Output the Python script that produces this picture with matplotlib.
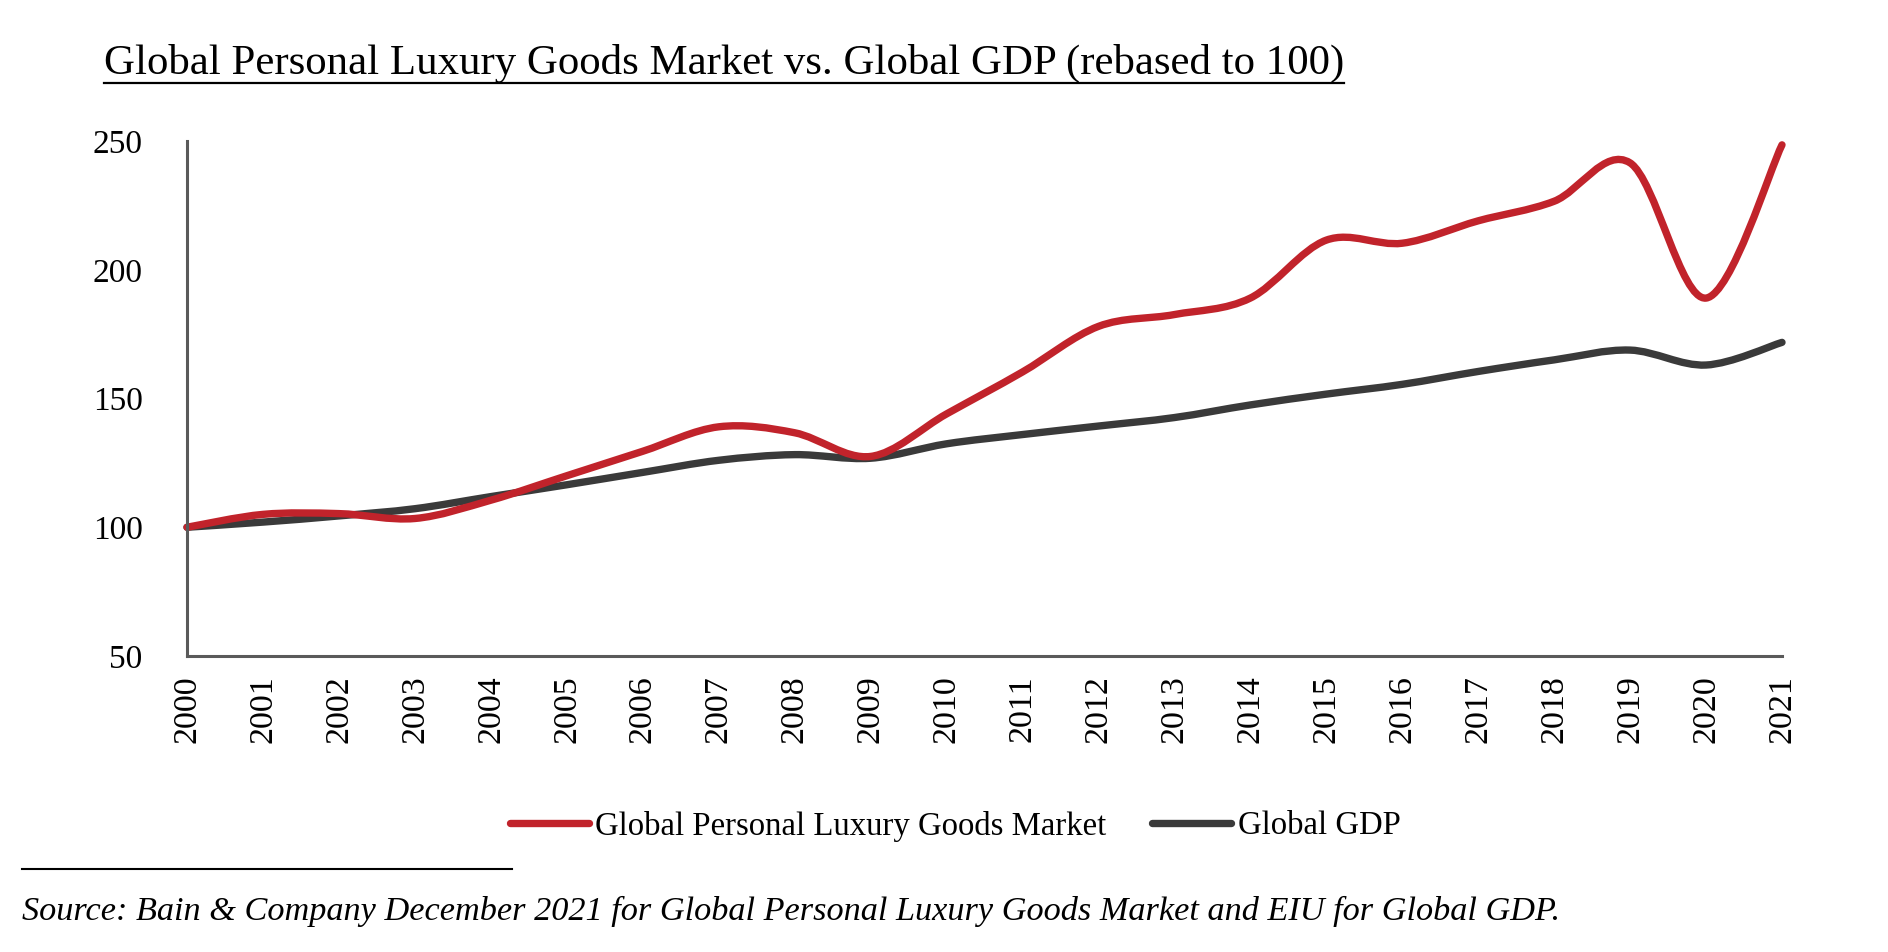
import matplotlib
matplotlib.use('Agg')
import matplotlib.pyplot as plt
from matplotlib.path import Path
from matplotlib.patches import PathPatch
from matplotlib.lines import Line2D
import numpy as np

# Datos (índice, 2000 = 100)
anios = list(range(2000, 2022))
lujo = [100, 105, 105.3, 103.4, 110.5, 120, 129.5, 139, 136.7, 127.5,
        144, 160.3, 178, 182.6, 189, 211.5, 210.3, 219, 226.6, 241.5, 189, 248.5]
pib = [100, 102, 104.4, 107.2, 111.9, 116.5, 121.3, 126, 128.2, 126.8,
       132.4, 136, 139.3, 142.6, 147.5, 151.7, 155.5, 160.5, 165, 168.8, 163, 171.8]
yticks = [50, 100, 150, 200, 250]

nombre_lujo = 'Global Personal Luxury Goods Market'
nombre_pib = 'Global GDP'
titulo = 'Global Personal Luxury Goods Market vs. Global GDP (rebased to 100)'
fuente = 'Source: Bain & Company December 2021 for Global Personal Luxury Goods Market and EIU for Global GDP.'

rojo = '#C1232B'
gris = '#3A3A3A'
fuente_serif = 'Liberation Serif'


def curva_suave(x, y):
    '''Camino Bezier tipo "línea suavizada" de Excel (Catmull-Rom).'''
    p = np.column_stack([x, y]).astype(float)
    n = len(p)
    verts = [p[0]]
    for i in range(n - 1):
        p0 = p[i - 1] if i > 0 else p[i]
        p3 = p[i + 2] if i + 2 < n else p[i + 1]
        c1 = p[i] + (p[i + 1] - p0) / 6
        c2 = p[i + 1] - (p3 - p[i]) / 6
        verts += [c1, c2, p[i + 1]]
    codes = [Path.MOVETO] + [Path.CURVE4] * 3 * (n - 1)
    return Path(verts, codes)


plt.rcParams['font.family'] = fuente_serif
fig = plt.figure(figsize=(18.88, 9.52), dpi=100)
ax = fig.add_axes([187 / 1888, 1 - 656 / 952, (1782 - 187) / 1888, (656 - 141) / 952])

for serie, color in [(pib, gris), (lujo, rojo)]:
    parche = PathPatch(curva_suave(anios, serie), fill=False, edgecolor=color,
                       linewidth=5.3, capstyle='round', joinstyle='round', clip_on=False)
    ax.add_patch(parche)

ax.set_xlim(2000, 2021)
ax.set_ylim(50, 250)
ax.set_xticks(anios)
ax.set_xticklabels([str(a) for a in anios], rotation=90, fontsize=24.5)
ax.set_yticks(yticks)
ax.set_yticklabels([str(v) for v in yticks], fontsize=24)
ax.tick_params(axis='x', length=0, pad=14)
ax.tick_params(axis='y', length=0, pad=32)
for lado in ['top', 'right']:
    ax.spines[lado].set_visible(False)
for lado in ['left', 'bottom']:
    ax.spines[lado].set_color('#5A5A5A')
    ax.spines[lado].set_linewidth(2.2)

# Leyenda
manejadores = [Line2D([], [], color=rojo, linewidth=5.3, solid_capstyle='round'),
               Line2D([], [], color=gris, linewidth=5.3, solid_capstyle='round')]
fig.legend(manejadores, [nombre_lujo, nombre_pib], loc='center',
           bbox_to_anchor=(0.506, 1 - 826 / 952), ncol=2, frameon=False,
           fontsize=23.6, handlelength=2.4, handletextpad=0.2, columnspacing=1.4)

# Título subrayado
t = fig.text(104 / 1888, 1 - 74 / 952, titulo, fontsize=30.9, ha='left', va='baseline')
fig.canvas.draw()
bb = t.get_window_extent()
y_sub = 1 - 83 / 952
fig.add_artist(Line2D([bb.x0 / 1888, bb.x1 / 1888], [y_sub, y_sub], color='black', linewidth=1.6))

# Fuente
fig.add_artist(Line2D([22 / 1888, 512 / 1888], [1 - 869 / 952] * 2, color='black', linewidth=1.5))
fig.text(22 / 1888, 1 - 911 / 952, fuente, fontsize=24.7, style='italic', ha='left', va='center')

fig.savefig('out.png', dpi=100)
